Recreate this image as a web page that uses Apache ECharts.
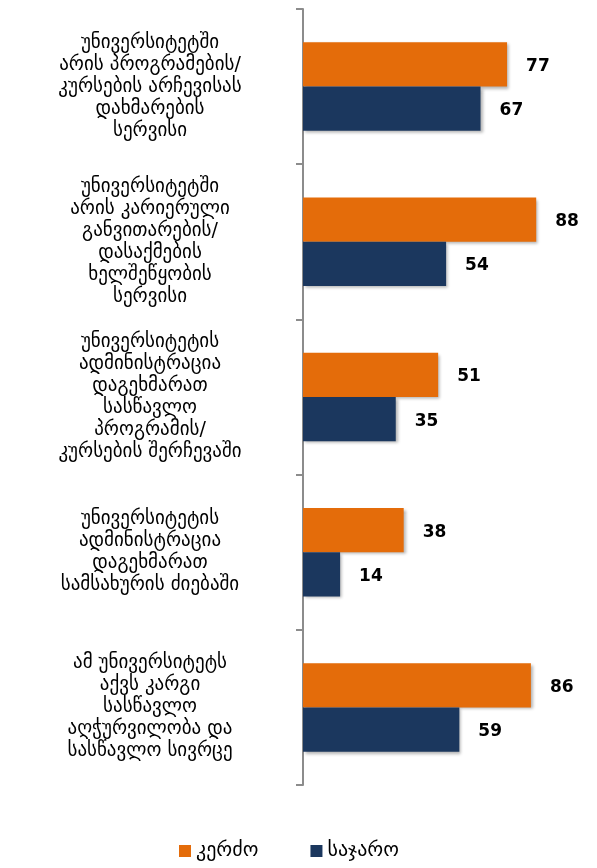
<!DOCTYPE html>
<html>
<head>
<meta charset="utf-8">
<script src="https://cdn.jsdelivr.net/npm/echarts@6/dist/echarts.min.js"></script>
<style>
  html, body { margin: 0; padding: 0; background: #fff; }
  #chart { width: 597px; height: 868px; }
</style>
</head>
<body>
<div id="chart"></div>
<script>
// კატეგორიები (ზემოდან ქვემოთ)
const categories = [
  'უნივერსიტეტში\nარის პროგრამების/\nკურსების არჩევისას\nდახმარების\nსერვისი',
  'უნივერსიტეტში\nარის კარიერული\nგანვითარების/\nდასაქმების\nხელშეწყობის\nსერვისი',
  'უნივერსიტეტის\nადმინისტრაცია\nდაგეხმარათ\nსასწავლო\nპროგრამის/\nკურსების შერჩევაში',
  'უნივერსიტეტის\nადმინისტრაცია\nდაგეხმარათ\nსამსახურის ძიებაში',
  'ამ უნივერსიტეტს\nაქვს კარგი\nსასწავლო\nაღჭურვილობა და\nსასწავლო სივრცე'
];
const seriesNames = ['კერძო', 'საჯარო'];
const privateValues = [77, 88, 51, 38, 86];
const publicValues = [67, 54, 35, 14, 59];

const chart = echarts.init(document.getElementById('chart'));

const barShadow = {
  shadowBlur: 3,
  shadowOffsetX: 2,
  shadowOffsetY: 2,
  shadowColor: 'rgba(0,0,0,0.3)'
};

const valueLabel = {
  show: true,
  position: 'right',
  distance: 19,
  offset: [0, 2],
  color: '#000',
  fontFamily: 'DejaVu Sans',
  fontWeight: 'bold',
  fontSize: 17
};

const option = {
  animation: false,
  backgroundColor: '#fff',
  legend: {
    data: seriesNames,
    bottom: 7,
    left: 179,
    padding: 0,
    itemWidth: 12,
    itemHeight: 12,
    itemGap: 52,
    icon: 'rect',
    textStyle: { fontFamily: 'DejaVu Sans', fontSize: 20, color: '#000' }
  },
  grid: {
    left: 303,
    right: 29,
    top: 9,
    bottom: 83
  },
  xAxis: {
    type: 'value',
    min: 0,
    max: 100,
    show: false
  },
  yAxis: {
    type: 'category',
    inverse: true,
    data: categories,
    axisLine: { lineStyle: { color: '#8c8c8c', width: 2 } },
    axisTick: { show: true, length: 7, lineStyle: { color: '#8c8c8c', width: 2 } },
    axisLabel: {
      align: 'center',
      margin: 153,
      color: '#000',
      fontFamily: 'DejaVu Sans',
      fontSize: 19,
      lineHeight: 22,
      padding: [6, 0, 0, 0]
    }
  },
  series: [
    {
      name: seriesNames[0],
      type: 'bar',
      data: privateValues,
      barGap: 0,
      barCategoryGap: '43%',
      itemStyle: Object.assign({ color: '#E46C0A' }, barShadow),
      label: valueLabel
    },
    {
      name: seriesNames[1],
      type: 'bar',
      data: publicValues,
      barGap: 0,
      barCategoryGap: '43%',
      itemStyle: Object.assign({ color: '#1B375E' }, barShadow),
      label: valueLabel
    }
  ]
};

chart.setOption(option);
</script>
</body>
</html>
